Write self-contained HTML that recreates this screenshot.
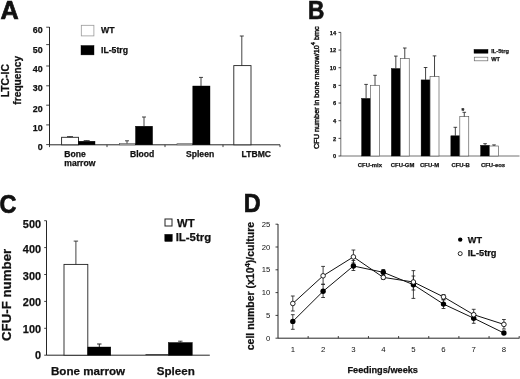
<!DOCTYPE html>
<html><head><meta charset="utf-8"><title>Figure</title>
<style>
html,body{margin:0;padding:0;background:#fff;}
svg{display:block;filter:blur(0.35px);}
text{font-family:"Liberation Sans",Arial,Helvetica,sans-serif;fill:#111;}
.b{font-weight:bold;stroke:#111;stroke-width:0.25;}
.ln{stroke:#1a1a1a;stroke-width:0.95;fill:none;}
.dl{stroke:#111;stroke-width:1.0;fill:none;}
.thin{stroke:#222;stroke-width:0.85;fill:none;}
.wb{fill:#fff;stroke:#222;stroke-width:0.9;}
.wb2{fill:#fff;stroke:#555;stroke-width:0.65;}
.lnB{stroke:#444;stroke-width:0.75;fill:none;}
.kb{fill:#000;stroke:#000;stroke-width:0.4;}
</style></head><body>
<svg width="520" height="379" viewBox="0 0 520 379">
<rect x="0" y="0" width="520" height="379" fill="#fff"/>

<g id="panelA">
<text class="b" x="0.60" y="18.50" font-size="25.2" text-anchor="start" style="stroke-width:0.7">A</text>
<line class="ln" x1="49.50" y1="27.00" x2="49.50" y2="144.80"/>
<line class="ln" x1="49.50" y1="144.80" x2="280.00" y2="144.80"/>
<line class="thin" x1="46.20" y1="27.20" x2="49.50" y2="27.20"/>
<text class="b" x="42.60" y="33.00" font-size="8.9" text-anchor="end">60</text>
<line class="thin" x1="46.20" y1="44.60" x2="49.50" y2="44.60"/>
<text class="b" x="42.60" y="52.70" font-size="8.9" text-anchor="end">50</text>
<line class="thin" x1="46.20" y1="66.00" x2="49.50" y2="66.00"/>
<text class="b" x="42.60" y="72.40" font-size="8.9" text-anchor="end">40</text>
<line class="thin" x1="46.20" y1="85.80" x2="49.50" y2="85.80"/>
<text class="b" x="42.60" y="91.30" font-size="8.9" text-anchor="end">30</text>
<line class="thin" x1="46.20" y1="105.20" x2="49.50" y2="105.20"/>
<text class="b" x="42.60" y="111.50" font-size="8.9" text-anchor="end">20</text>
<line class="thin" x1="46.20" y1="124.90" x2="49.50" y2="124.90"/>
<text class="b" x="42.60" y="130.80" font-size="8.9" text-anchor="end">10</text>
<line class="thin" x1="46.20" y1="144.60" x2="49.50" y2="144.60"/>
<text class="b" x="42.60" y="150.40" font-size="8.9" text-anchor="end">0</text>
<line class="thin" x1="49.50" y1="144.80" x2="49.50" y2="147.10"/>
<line class="thin" x1="107.00" y1="144.80" x2="107.00" y2="147.10"/>
<line class="thin" x1="165.00" y1="144.80" x2="165.00" y2="147.10"/>
<line class="thin" x1="223.00" y1="144.80" x2="223.00" y2="147.10"/>
<line class="thin" x1="280.00" y1="144.80" x2="280.00" y2="147.10"/>
<rect class="wb" x="61.60" y="137.30" width="16.90" height="7.50"/>
<line class="thin" x1="70.00" y1="137.30" x2="70.00" y2="136.60"/>
<line class="thin" x1="67.00" y1="136.60" x2="73.00" y2="136.60"/>
<rect class="kb" x="78.50" y="141.20" width="16.50" height="3.60"/>
<line class="thin" x1="86.70" y1="141.20" x2="86.70" y2="140.60"/>
<line class="thin" x1="83.70" y1="140.60" x2="89.70" y2="140.60"/>
<rect class="wb2" x="119.60" y="143.50" width="15.90" height="1.30"/>
<line class="thin" x1="127.00" y1="143.40" x2="127.00" y2="140.80"/>
<line class="thin" x1="125.00" y1="140.80" x2="129.00" y2="140.80"/>
<rect class="kb" x="135.50" y="126.20" width="17.10" height="18.60"/>
<line class="thin" x1="144.00" y1="126.20" x2="144.00" y2="117.00"/>
<line class="thin" x1="142.00" y1="117.00" x2="146.00" y2="117.00"/>
<rect class="wb2" x="177.00" y="143.70" width="15.80" height="1.10"/>
<rect class="kb" x="192.80" y="86.00" width="17.20" height="58.80"/>
<line class="thin" x1="201.00" y1="86.00" x2="201.00" y2="77.40"/>
<line class="thin" x1="199.00" y1="77.40" x2="203.00" y2="77.40"/>
<rect class="wb" x="233.80" y="65.60" width="17.20" height="79.20"/>
<line class="thin" x1="241.80" y1="65.60" x2="241.80" y2="36.00"/>
<line class="thin" x1="239.80" y1="36.00" x2="243.80" y2="36.00"/>
<text class="b" x="64.30" y="157.00" font-size="8.6" text-anchor="start">Bone</text>
<text class="b" x="64.30" y="166.00" font-size="8.6" text-anchor="start">marrow</text>
<text class="b" x="130.00" y="156.60" font-size="8.6" text-anchor="start">Blood</text>
<text class="b" x="186.00" y="156.60" font-size="8.6" text-anchor="start">Spleen</text>
<text class="b" x="241.60" y="156.60" font-size="8.6" text-anchor="start">LTBMC</text>
<rect x="81.3" y="25.3" width="12.6" height="10.6" fill="#fff" stroke="#999" stroke-width="0.8"/>
<rect class="kb" x="81.00" y="45.50" width="13.00" height="9.40"/>
<text class="b" x="101.00" y="33.00" font-size="8.7" text-anchor="start">WT</text>
<text class="b" x="101.00" y="53.00" font-size="8.7" text-anchor="start">IL-5trg</text>
<text class="b" x="9.10" y="80.70" font-size="10" text-anchor="middle" transform="rotate(-90 9.10 80.70)" textLength="33.2" lengthAdjust="spacingAndGlyphs">LTC-IC</text>
<text class="b" x="21.40" y="80.30" font-size="10.2" text-anchor="middle" transform="rotate(-90 21.40 80.30)">frequency</text>
</g>
<g id="panelB">
<text class="b" font-size="25.2" style="stroke-width:0.7" transform="translate(308.0 18.9) scale(0.9 1)">B</text>
<line class="lnB" x1="340.80" y1="32.40" x2="340.80" y2="156.00"/>
<line class="lnB" x1="340.80" y1="156.00" x2="519.50" y2="156.00"/>
<line class="thin" x1="338.50" y1="32.40" x2="340.80" y2="32.40"/>
<text class="b" x="336.20" y="34.70" font-size="5.7" text-anchor="end">14</text>
<line class="thin" x1="338.50" y1="50.06" x2="340.80" y2="50.06"/>
<text class="b" x="336.20" y="52.36" font-size="5.7" text-anchor="end">12</text>
<line class="thin" x1="338.50" y1="67.72" x2="340.80" y2="67.72"/>
<text class="b" x="336.20" y="70.02" font-size="5.7" text-anchor="end">10</text>
<line class="thin" x1="338.50" y1="85.38" x2="340.80" y2="85.38"/>
<text class="b" x="336.20" y="87.68" font-size="5.7" text-anchor="end">8</text>
<line class="thin" x1="338.50" y1="103.04" x2="340.80" y2="103.04"/>
<text class="b" x="336.20" y="105.34" font-size="5.7" text-anchor="end">6</text>
<line class="thin" x1="338.50" y1="120.70" x2="340.80" y2="120.70"/>
<text class="b" x="336.20" y="123.00" font-size="5.7" text-anchor="end">4</text>
<line class="thin" x1="338.50" y1="138.36" x2="340.80" y2="138.36"/>
<text class="b" x="336.20" y="140.66" font-size="5.7" text-anchor="end">2</text>
<line class="thin" x1="338.50" y1="156.02" x2="340.80" y2="156.02"/>
<text class="b" x="336.20" y="158.32" font-size="5.7" text-anchor="end">0</text>
<rect class="kb" x="361.60" y="98.40" width="8.95" height="57.60"/>
<line class="thin" x1="366.08" y1="98.40" x2="366.08" y2="84.40"/>
<line class="thin" x1="364.28" y1="84.40" x2="367.88" y2="84.40"/>
<rect class="wb2" x="370.55" y="85.30" width="8.95" height="70.70"/>
<line class="thin" x1="375.03" y1="85.30" x2="375.03" y2="75.30"/>
<line class="thin" x1="373.23" y1="75.30" x2="376.83" y2="75.30"/>
<text class="b" x="357.80" y="166.50" font-size="5.9" text-anchor="start">CFU-mix</text>
<rect class="kb" x="391.35" y="68.50" width="8.95" height="87.50"/>
<line class="thin" x1="395.83" y1="68.50" x2="395.83" y2="56.10"/>
<line class="thin" x1="394.03" y1="56.10" x2="397.63" y2="56.10"/>
<rect class="wb2" x="400.30" y="58.50" width="8.95" height="97.50"/>
<line class="thin" x1="404.78" y1="58.50" x2="404.78" y2="48.00"/>
<line class="thin" x1="402.98" y1="48.00" x2="406.58" y2="48.00"/>
<text class="b" x="390.80" y="166.50" font-size="5.9" text-anchor="start">CFU-GM</text>
<rect class="kb" x="421.10" y="79.90" width="8.95" height="76.10"/>
<line class="thin" x1="425.58" y1="79.90" x2="425.58" y2="67.50"/>
<line class="thin" x1="423.78" y1="67.50" x2="427.38" y2="67.50"/>
<rect class="wb2" x="430.05" y="76.50" width="8.95" height="79.50"/>
<line class="thin" x1="434.53" y1="76.50" x2="434.53" y2="55.90"/>
<line class="thin" x1="432.73" y1="55.90" x2="436.33" y2="55.90"/>
<text class="b" x="420.10" y="166.50" font-size="5.9" text-anchor="start">CFU-M</text>
<rect class="kb" x="450.85" y="135.80" width="8.95" height="20.20"/>
<line class="thin" x1="455.33" y1="135.80" x2="455.33" y2="127.30"/>
<line class="thin" x1="453.53" y1="127.30" x2="457.13" y2="127.30"/>
<rect class="wb2" x="459.80" y="116.60" width="8.95" height="39.40"/>
<line class="thin" x1="464.28" y1="116.60" x2="464.28" y2="112.30"/>
<line class="thin" x1="462.48" y1="112.30" x2="466.08" y2="112.30"/>
<text class="b" x="451.40" y="166.50" font-size="5.9" text-anchor="start">CFU-B</text>
<rect class="kb" x="480.60" y="145.30" width="8.95" height="10.70"/>
<line class="thin" x1="485.08" y1="145.30" x2="485.08" y2="143.70"/>
<line class="thin" x1="483.28" y1="143.70" x2="486.88" y2="143.70"/>
<rect class="wb2" x="489.55" y="146.00" width="8.95" height="10.00"/>
<line class="thin" x1="494.03" y1="146.00" x2="494.03" y2="144.90"/>
<line class="thin" x1="492.23" y1="144.90" x2="495.83" y2="144.90"/>
<text class="b" x="480.90" y="166.50" font-size="5.9" text-anchor="start">CFU-eos</text>
<text class="b" x="462.90" y="113.00" font-size="7" text-anchor="middle">*</text>
<rect class="kb" x="474.00" y="49.40" width="14.00" height="3.80"/>
<rect x="474.3" y="57.2" width="13.5" height="3.6" fill="#fff" stroke="#666" stroke-width="0.7"/>
<text class="b" x="491.20" y="53.00" font-size="5.7" text-anchor="start">IL-5trg</text>
<text class="b" x="491.20" y="60.60" font-size="5.7" text-anchor="start">WT</text>
<text x="319.0" y="149" font-size="7.3" transform="rotate(-90 319.0 149)" textLength="122.7" lengthAdjust="spacingAndGlyphs" style="stroke:#111;stroke-width:0.45">CFU number in bone marrow/10<tspan dy="-3.6" font-size="5.6">4</tspan><tspan dy="3.6"> bmc</tspan></text>
</g>
<g id="panelC">
<text class="b" font-size="25.2" style="stroke-width:0.7" transform="translate(-0.4 212.7) scale(0.93 1)">C</text>
<line class="ln" x1="46.50" y1="220.70" x2="46.50" y2="355.20"/>
<line class="ln" x1="46.50" y1="355.20" x2="209.80" y2="355.20"/>
<line class="thin" x1="44.20" y1="220.70" x2="46.50" y2="220.70"/>
<text class="b" x="41.00" y="228.40" font-size="10.9" text-anchor="end">500</text>
<line class="thin" x1="44.20" y1="247.60" x2="46.50" y2="247.60"/>
<text class="b" x="41.00" y="252.90" font-size="10.9" text-anchor="end">400</text>
<line class="thin" x1="44.20" y1="274.50" x2="46.50" y2="274.50"/>
<text class="b" x="41.00" y="279.90" font-size="10.9" text-anchor="end">300</text>
<line class="thin" x1="44.20" y1="301.40" x2="46.50" y2="301.40"/>
<text class="b" x="41.00" y="305.90" font-size="10.9" text-anchor="end">200</text>
<line class="thin" x1="44.20" y1="328.30" x2="46.50" y2="328.30"/>
<text class="b" x="41.00" y="333.40" font-size="10.9" text-anchor="end">100</text>
<line class="thin" x1="44.20" y1="355.20" x2="46.50" y2="355.20"/>
<text class="b" x="41.00" y="358.60" font-size="10.9" text-anchor="end">0</text>
<rect class="wb" x="64.00" y="264.40" width="23.80" height="90.80"/>
<line class="thin" x1="75.90" y1="264.40" x2="75.90" y2="241.10"/>
<line class="thin" x1="73.70" y1="241.10" x2="78.10" y2="241.10"/>
<rect class="kb" x="87.80" y="347.00" width="23.00" height="8.20"/>
<line class="ln" x1="99.30" y1="347.00" x2="99.30" y2="344.00"/>
<line class="ln" x1="97.10" y1="344.00" x2="101.50" y2="344.00"/>
<line class="thin" x1="145.50" y1="354.60" x2="168.30" y2="354.60"/>
<rect class="kb" x="168.30" y="342.50" width="24.00" height="12.70"/>
<line class="thin" x1="180.30" y1="342.50" x2="180.30" y2="341.20"/>
<line class="thin" x1="178.10" y1="341.20" x2="182.50" y2="341.20"/>
<text class="b" x="51.00" y="374.50" font-size="11.6" text-anchor="start">Bone marrow</text>
<text class="b" x="156.80" y="375.20" font-size="11.6" text-anchor="start">Spleen</text>
<rect x="165.0" y="219.0" width="7.0" height="7.0" fill="#fff" stroke="#222" stroke-width="1.0"/>
<rect class="kb" x="164.80" y="234.30" width="7.50" height="7.20"/>
<text class="b" x="177.00" y="226.50" font-size="11.3" text-anchor="start">WT</text>
<text class="b" x="175.70" y="241.00" font-size="11.4" text-anchor="start">IL-5trg</text>
<text class="b" x="10.80" y="294.90" font-size="13.4" text-anchor="middle" transform="rotate(-90 10.80 294.90)" textLength="92.2" lengthAdjust="spacingAndGlyphs">CFU-F number</text>
</g>
<g id="panelD">
<text class="b" font-size="25.2" style="stroke-width:0.7" transform="translate(243.8 212.0) scale(0.93 1)">D</text>
<line class="ln" x1="278.00" y1="224.00" x2="278.00" y2="338.20"/>
<line class="ln" x1="278.00" y1="338.20" x2="519.50" y2="338.20"/>
<line class="thin" x1="275.50" y1="224.20" x2="278.00" y2="224.20"/>
<text x="270.30" y="226.80" font-size="7.7" text-anchor="end">25</text>
<line class="thin" x1="275.50" y1="247.00" x2="278.00" y2="247.00"/>
<text x="270.30" y="249.60" font-size="7.7" text-anchor="end">20</text>
<line class="thin" x1="275.50" y1="269.80" x2="278.00" y2="269.80"/>
<text x="270.30" y="272.40" font-size="7.7" text-anchor="end">15</text>
<line class="thin" x1="275.50" y1="292.60" x2="278.00" y2="292.60"/>
<text x="270.30" y="295.20" font-size="7.7" text-anchor="end">10</text>
<line class="thin" x1="275.50" y1="315.40" x2="278.00" y2="315.40"/>
<text x="270.30" y="318.00" font-size="7.7" text-anchor="end">5</text>
<line class="thin" x1="275.50" y1="338.20" x2="278.00" y2="338.20"/>
<text x="270.30" y="340.80" font-size="7.7" text-anchor="end">0</text>
<line class="thin" x1="308.15" y1="336.00" x2="308.15" y2="338.20"/>
<text x="292.80" y="351.70" font-size="7.8" text-anchor="middle">1</text>
<line class="thin" x1="338.30" y1="336.00" x2="338.30" y2="338.20"/>
<text x="323.10" y="351.70" font-size="7.8" text-anchor="middle">2</text>
<line class="thin" x1="368.45" y1="336.00" x2="368.45" y2="338.20"/>
<text x="353.40" y="351.70" font-size="7.8" text-anchor="middle">3</text>
<line class="thin" x1="398.60" y1="336.00" x2="398.60" y2="338.20"/>
<text x="383.30" y="351.70" font-size="7.8" text-anchor="middle">4</text>
<line class="thin" x1="428.75" y1="336.00" x2="428.75" y2="338.20"/>
<text x="413.40" y="351.70" font-size="7.8" text-anchor="middle">5</text>
<line class="thin" x1="458.90" y1="336.00" x2="458.90" y2="338.20"/>
<text x="443.50" y="351.70" font-size="7.8" text-anchor="middle">6</text>
<line class="thin" x1="489.05" y1="336.00" x2="489.05" y2="338.20"/>
<text x="473.70" y="351.70" font-size="7.8" text-anchor="middle">7</text>
<line class="thin" x1="519.20" y1="336.00" x2="519.20" y2="338.20"/>
<text x="503.90" y="351.70" font-size="7.8" text-anchor="middle">8</text>
<polyline class="dl" points="292.8,321.4 323.1,291.3 353.4,266.0 383.3,272.3 413.4,284.7 443.5,304.1 473.7,318.2 503.9,333.0"/>
<polyline class="dl" points="292.8,303.5 323.1,275.8 353.4,256.9 383.3,277.4 413.4,282.0 443.5,296.9 473.7,314.7 503.9,324.4"/>
<line class="thin" x1="292.80" y1="329.30" x2="292.80" y2="314.70"/>
<line class="thin" x1="290.90" y1="314.70" x2="294.70" y2="314.70"/>
<line class="thin" x1="290.90" y1="329.30" x2="294.70" y2="329.30"/>
<line class="thin" x1="323.10" y1="297.50" x2="323.10" y2="284.30"/>
<line class="thin" x1="321.20" y1="284.30" x2="325.00" y2="284.30"/>
<line class="thin" x1="321.20" y1="297.50" x2="325.00" y2="297.50"/>
<line class="thin" x1="353.40" y1="270.50" x2="353.40" y2="260.50"/>
<line class="thin" x1="351.50" y1="260.50" x2="355.30" y2="260.50"/>
<line class="thin" x1="351.50" y1="270.50" x2="355.30" y2="270.50"/>
<line class="thin" x1="383.30" y1="275.00" x2="383.30" y2="269.50"/>
<line class="thin" x1="381.40" y1="269.50" x2="385.20" y2="269.50"/>
<line class="thin" x1="381.40" y1="275.00" x2="385.20" y2="275.00"/>
<line class="thin" x1="413.40" y1="298.40" x2="413.40" y2="276.00"/>
<line class="thin" x1="411.50" y1="276.00" x2="415.30" y2="276.00"/>
<line class="thin" x1="411.50" y1="298.40" x2="415.30" y2="298.40"/>
<line class="thin" x1="443.50" y1="308.50" x2="443.50" y2="300.00"/>
<line class="thin" x1="441.60" y1="300.00" x2="445.40" y2="300.00"/>
<line class="thin" x1="441.60" y1="308.50" x2="445.40" y2="308.50"/>
<line class="thin" x1="473.70" y1="323.30" x2="473.70" y2="314.00"/>
<line class="thin" x1="471.80" y1="314.00" x2="475.60" y2="314.00"/>
<line class="thin" x1="471.80" y1="323.30" x2="475.60" y2="323.30"/>
<line class="thin" x1="503.90" y1="334.50" x2="503.90" y2="331.50"/>
<line class="thin" x1="502.00" y1="331.50" x2="505.80" y2="331.50"/>
<line class="thin" x1="502.00" y1="334.50" x2="505.80" y2="334.50"/>
<line class="thin" x1="292.80" y1="311.00" x2="292.80" y2="296.00"/>
<line class="thin" x1="290.90" y1="296.00" x2="294.70" y2="296.00"/>
<line class="thin" x1="290.90" y1="311.00" x2="294.70" y2="311.00"/>
<line class="thin" x1="323.10" y1="284.30" x2="323.10" y2="266.40"/>
<line class="thin" x1="321.20" y1="266.40" x2="325.00" y2="266.40"/>
<line class="thin" x1="321.20" y1="284.30" x2="325.00" y2="284.30"/>
<line class="thin" x1="353.40" y1="263.00" x2="353.40" y2="250.00"/>
<line class="thin" x1="351.50" y1="250.00" x2="355.30" y2="250.00"/>
<line class="thin" x1="351.50" y1="263.00" x2="355.30" y2="263.00"/>
<line class="thin" x1="383.30" y1="279.50" x2="383.30" y2="275.50"/>
<line class="thin" x1="381.40" y1="275.50" x2="385.20" y2="275.50"/>
<line class="thin" x1="381.40" y1="279.50" x2="385.20" y2="279.50"/>
<line class="thin" x1="413.40" y1="290.00" x2="413.40" y2="270.60"/>
<line class="thin" x1="411.50" y1="270.60" x2="415.30" y2="270.60"/>
<line class="thin" x1="411.50" y1="290.00" x2="415.30" y2="290.00"/>
<line class="thin" x1="443.50" y1="299.50" x2="443.50" y2="294.50"/>
<line class="thin" x1="441.60" y1="294.50" x2="445.40" y2="294.50"/>
<line class="thin" x1="441.60" y1="299.50" x2="445.40" y2="299.50"/>
<line class="thin" x1="473.70" y1="319.00" x2="473.70" y2="309.30"/>
<line class="thin" x1="471.80" y1="309.30" x2="475.60" y2="309.30"/>
<line class="thin" x1="471.80" y1="319.00" x2="475.60" y2="319.00"/>
<line class="thin" x1="503.90" y1="329.00" x2="503.90" y2="319.50"/>
<line class="thin" x1="502.00" y1="319.50" x2="505.80" y2="319.50"/>
<line class="thin" x1="502.00" y1="329.00" x2="505.80" y2="329.00"/>
<circle cx="292.8" cy="321.4" r="2.7" fill="#000"/>
<circle cx="323.1" cy="291.3" r="2.7" fill="#000"/>
<circle cx="353.4" cy="266.0" r="2.7" fill="#000"/>
<circle cx="383.3" cy="272.3" r="2.7" fill="#000"/>
<circle cx="413.4" cy="284.7" r="2.7" fill="#000"/>
<circle cx="443.5" cy="304.1" r="2.7" fill="#000"/>
<circle cx="473.7" cy="318.2" r="2.7" fill="#000"/>
<circle cx="503.9" cy="333.0" r="2.7" fill="#000"/>
<circle cx="292.8" cy="303.5" r="2.3" fill="#fff" stroke="#111" stroke-width="0.9"/>
<circle cx="323.1" cy="275.8" r="2.3" fill="#fff" stroke="#111" stroke-width="0.9"/>
<circle cx="353.4" cy="256.9" r="2.3" fill="#fff" stroke="#111" stroke-width="0.9"/>
<circle cx="383.3" cy="277.4" r="2.3" fill="#fff" stroke="#111" stroke-width="0.9"/>
<circle cx="413.4" cy="282.0" r="2.3" fill="#fff" stroke="#111" stroke-width="0.9"/>
<circle cx="443.5" cy="296.9" r="2.3" fill="#fff" stroke="#111" stroke-width="0.9"/>
<circle cx="473.7" cy="314.7" r="2.3" fill="#fff" stroke="#111" stroke-width="0.9"/>
<circle cx="503.9" cy="324.4" r="2.3" fill="#fff" stroke="#111" stroke-width="0.9"/>
<circle cx="460.2" cy="239.6" r="2.2" fill="#000"/>
<circle cx="460.2" cy="253.6" r="2.0" fill="#fff" stroke="#111" stroke-width="0.9"/>
<text class="b" x="467.80" y="242.60" font-size="9.1" text-anchor="start">WT</text>
<text class="b" x="467.80" y="256.30" font-size="9.2" text-anchor="start">IL-5trg</text>
<text class="b" x="347.50" y="373.40" font-size="9.2" text-anchor="start">Feedings/weeks</text>
<text class="b" x="253.7" y="350.2" font-size="10.3" transform="rotate(-90 253.7 350.2)" textLength="128.3" lengthAdjust="spacingAndGlyphs">cell number (x10<tspan dy="-3.4" font-size="7.6">4</tspan><tspan dy="3.4">)/culture</tspan></text>
</g>
</svg></body></html>
